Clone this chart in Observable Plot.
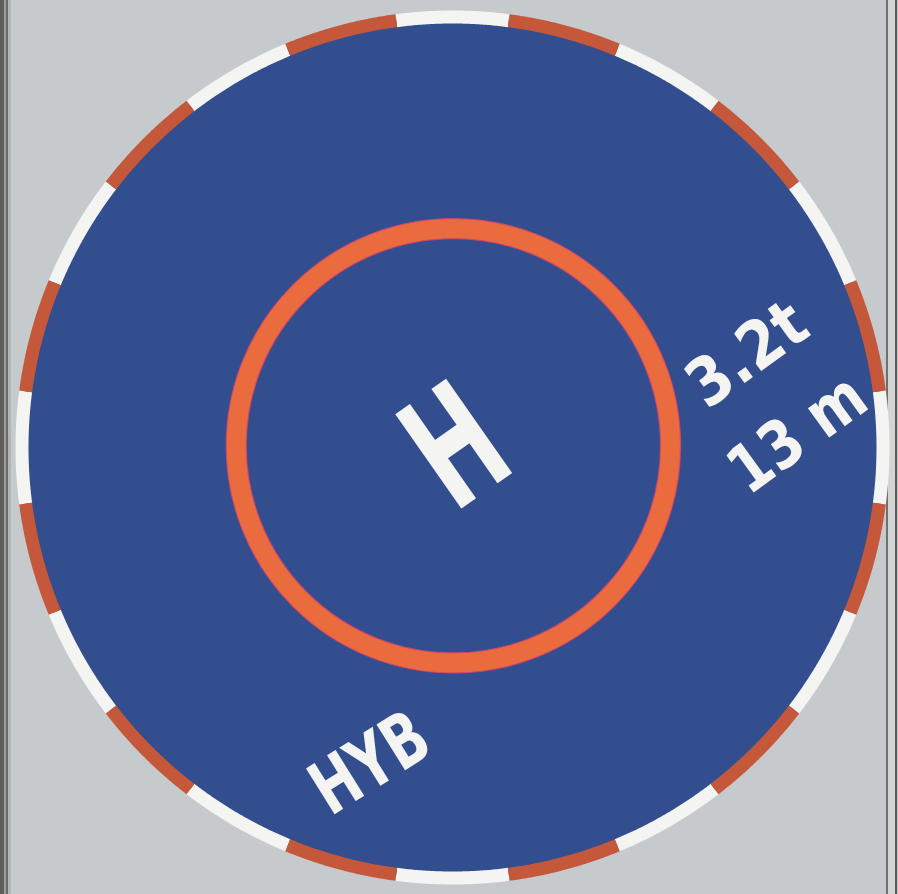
<!DOCTYPE html>
<html><head><meta charset="utf-8">
<script src="https://cdn.jsdelivr.net/npm/d3@7"></script>
<script src="https://cdn.jsdelivr.net/npm/@observablehq/plot@0.6"></script>
<style>
html,body{margin:0;padding:0;overflow:hidden;background:#c6c9cb}
#chart svg{display:block}
</style></head><body><div id="chart"></div>
<script>
// ---- Data (unit = outer radius of the helipad) ----
const segmentCount = 24;                    // alternating edge segments
const segmentKinds = ["white", "red"];      // segment 0 (top) is white
const padRadius = 1;
const ringRadius = 0.497;                   // touchdown ring
const labels = ["H", "3.2t", "13 m", "HYB"];
const labelX = [0.012, 0.675, 0.790, -0.188];
const labelY = [-0.004, 0.212, 0.030, -0.724];
const labelAngle = [-35, -36, -36, -32];

// ---- Derived tables ----
const W = 898, H = 894;
const px = 437;                               // pixels per unit
const cx = 452, cy = 447;                    // pad centre in the photo
const xDomain = [-cx / px, (W - cx) / px];
const yDomain = [-(H - cy) / px, cy / px];
const border = 13 / px;                      // width of edge band (units)
const rBand = padRadius - border / 2;

const segStep = 360 / segmentCount;
const arcPoints = [];
for (let i = 0; i < segmentCount; ++i) {
  const a0 = i * segStep - segStep / 2, a1 = i * segStep + segStep / 2;
  for (let a = a0; a <= a1 + 1e-9; a += 0.25) {
    const t = a * Math.PI / 180;
    arcPoints.push({seg: i, kind: segmentKinds[i % 2], x: rBand * Math.sin(t), y: rBand * Math.cos(t)});
  }
}
const labelRows = labels.map((t, i) => ({text: t, x: labelX[i], y: labelY[i], angle: labelAngle[i]}));

const white = "#f4f4f2", red = "#c5583a", blue = "#324e8e", orange = "#ea6c3e";
const font = "DejaVu Sans";
const textOpts = (size) => ({x: "x", y: "y", text: "text", rotate: "angle", fontSize: size, fontFamily: font,
  fontWeight: "bold", fill: white, textAnchor: "middle", lineAnchor: "middle"});

const chart = Plot.plot({
  width: W, height: H, margin: 0,
  x: {domain: xDomain, axis: null},
  y: {domain: yDomain, axis: null},
  style: {background: "transparent", overflow: "visible"},
  marks: [
    Plot.dot([{x: 0, y: 0}], {x: "x", y: "y", r: (padRadius - border * 0.4) * px, fill: blue, stroke: "none"}),
    Plot.line(arcPoints.filter(d => d.kind === "white"), {x: "x", y: "y", z: "seg", stroke: white, strokeWidth: border * px, strokeLinecap: "butt", curve: "linear"}),
    Plot.line(arcPoints.filter(d => d.kind === "red"), {x: "x", y: "y", z: "seg", stroke: red, strokeWidth: border * px, strokeLinecap: "butt", curve: "linear"}),
    Plot.dot([{x: 0.002, y: 0.004}], {x: "x", y: "y", r: ringRadius * px, fill: "none", stroke: orange, strokeWidth: 20}),
    Plot.dot([{x: 0.002, y: 0.004}], {x: "x", y: "y", r: ringRadius * px + 10, fill: "none", stroke: "#d8456a", strokeWidth: 1.3, strokeOpacity: 0.8}),
    Plot.dot([{x: 0.002, y: 0.004}], {x: "x", y: "y", r: ringRadius * px - 10, fill: "none", stroke: "#d8456a", strokeWidth: 1.3, strokeOpacity: 0.8}),
    Plot.text(labelRows.filter(d => d.text === "H"), textOpts(158)),
    Plot.text(labelRows.filter(d => d.text === "3.2t"), textOpts(66)),
    Plot.text(labelRows.filter(d => d.text === "13 m"), textOpts(66)),
    Plot.text(labelRows.filter(d => d.text === "HYB"), textOpts(74))
  ]
});

// condense the stencil lettering along its baseline
const stretch = {"H": 0.6, "3.2t": 0.88, "13 m": 0.83, "HYB": 0.72};
chart.querySelectorAll("text").forEach(t => {
  const sx = stretch[t.textContent];
  if (sx == null) return;
  const tr = t.getAttribute("transform");
  if (tr) t.setAttribute("transform", tr + ` scale(${sx},1)`);
  else {
    const x = +t.getAttribute("x") || 0, y = +t.getAttribute("y") || 0;
    t.setAttribute("transform", `translate(${x},${y}) scale(${sx},1) translate(${-x},${-y})`);
  }
});
chart.style.background = "linear-gradient(to right, #5f605e 0 4px, #9c9d9a 4px 6px, #6a6b69 6px 8px, #b5b6b3 8px 11px, #c7cacc 11px 886px, #6f7070 886px 888px, #d3d5d5 888px 895px, #5a5b5b 895px 897px, #bfc1c1 897px)";
document.getElementById("chart").appendChild(chart);
</script></body></html>
